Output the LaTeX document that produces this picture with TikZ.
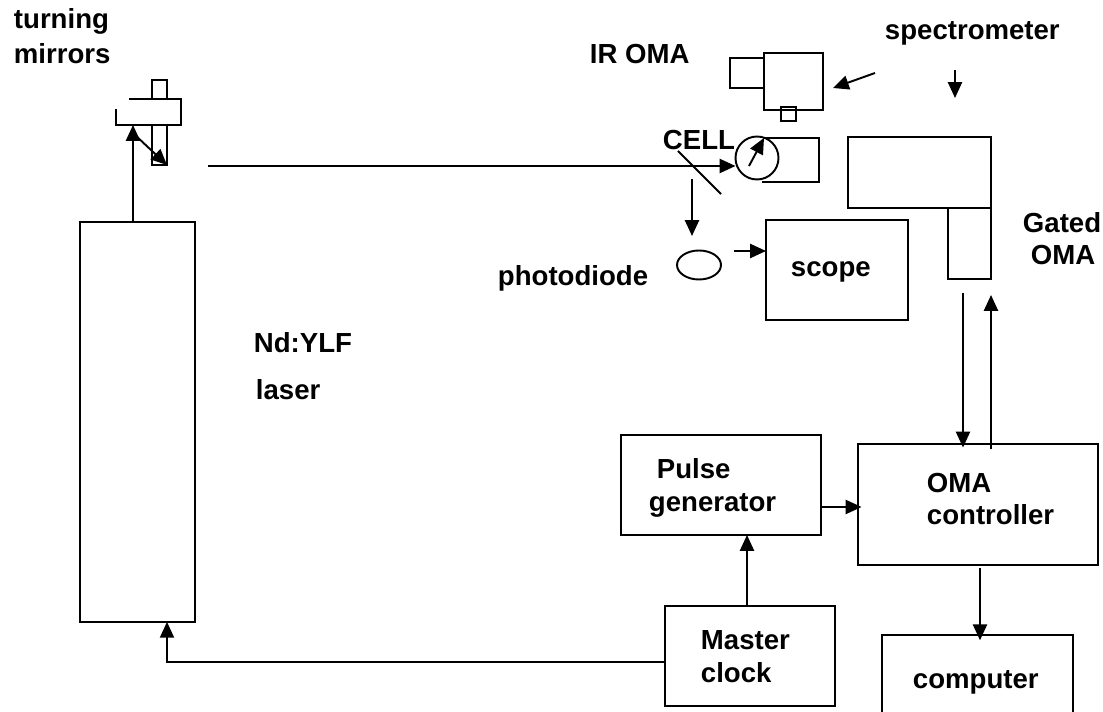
\documentclass[tikz,border=0pt]{standalone}
\usepackage{fontspec}
\setmainfont{Liberation Sans}
\usetikzlibrary{arrows.meta, positioning, calc, shapes.geometric}

\begin{document}
\begin{tikzpicture}[
    x=0.02cm, y=-0.02cm,
    line width=1.1pt,
    >={Triangle[length=9pt, width=8pt]},
    apparatus/.style={draw, rectangle, inner sep=0pt, outer sep=0pt, anchor=north west},
    caption/.style={font=\fontsize{15.7}{19}\selectfont\bfseries, align=left, anchor=north west, inner sep=0pt}
  ]
    \useasboundingbox (0,0) rectangle (1103,712);

    % boxes
    \node[apparatus, minimum width=2.3cm, minimum height=8cm] (laser) at (80,222) {};
    \node[apparatus, minimum width=1.18cm, minimum height=1.14cm] (iroma) at (764,53) {};
    \node[apparatus, minimum width=0.68cm, minimum height=0.6cm] (irlens) at (730,58) {};
    \node[apparatus, minimum width=0.3cm, minimum height=0.28cm] (irport) at (781,107) {};
    \node[apparatus, minimum width=2.84cm, minimum height=2cm] (scope) at (766,220) {};
    \node[apparatus, minimum width=2.86cm, minimum height=1.42cm] (spectrometer) at (848,137) {};
    \node[apparatus, minimum width=0.86cm, minimum height=1.42cm] (gated) at (948,208) {};
    \node[apparatus, minimum width=4.8cm, minimum height=2.42cm] (controller) at (858,444) {};
    \node[apparatus, minimum width=4cm, minimum height=2cm] (pulse) at (621,435) {};
    \node[apparatus, minimum width=3.4cm, minimum height=2cm] (clock) at (665,606) {};
    \node[apparatus, minimum width=3.82cm, minimum height=1.7cm] (computer) at (882,635) {};
    \node[draw, circle, inner sep=0pt, outer sep=0pt, minimum size=0.86cm] (cell) at (757,158) {};
    \node[draw, ellipse, inner sep=0pt, outer sep=0pt, minimum width=0.88cm, minimum height=0.58cm] (diode) at (699,265) {};

    % turning mirrors
    \draw (152,99) -- (152,80) -- (167,80) -- (167,99);
    \draw (152,125) -- (152,165) -- (167,165) -- (167,125);
    \draw (129,99) -- (181,99) -- (181,125) -- (116,125) -- (116,109);
    \coordinate (mirrorin) at (133,125);
    \coordinate (mirrorout) at (135,135);
    \coordinate (mirrorlow) at (167,165);

    % cell holder and beam splitter
    \draw (763,138) -- (819,138) -- (819,182) -- (762,182);
    \draw (678,151) -- (721,194);

    % free ends
    \coordinate (beam) at (208,166);
    \coordinate (cellarrow) at (749,166);
    \coordinate (cellarrowend) at (764,138);
    \coordinate (split) at (692,179);
    \coordinate (diodetop) at (692,236);
    \coordinate (diodeout) at (734,251);
    \coordinate (iroutstart) at (875,73);
    \coordinate (iroutend) at (833,88);
    \coordinate (specstart) at (955,70);
    \coordinate (specend) at (955,98);
    \coordinate (gateddown) at (963,293);
    \coordinate (gatedup) at (991,295);

    \draw[->] (laser.north west -| mirrorin) -- (mirrorin);
    \draw[->] (mirrorout) -- (mirrorlow);
    \draw[->] (beam) -- (cell.west |- beam);
    \draw[->] (cellarrow) -- (cellarrowend);
    \draw[->] (split) -- (diodetop);
    \draw[->] (diodeout) -- (scope.west |- diodeout);
    \draw[->] (iroutstart) -- (iroutend);
    \draw[->] (specstart) -- (specend);
    \draw[->, shorten >=-2pt] (gateddown) -- (gateddown |- controller.north);
    \draw[->, shorten <=-3pt] (gatedup |- controller.north) -- (gatedup);
    \draw[->, shorten >=-2pt] (pulse.east |- 0,507) -- (controller.west |- 0,507);
    \draw[->] (clock.north -| 747,0) -- (pulse.south -| 747,0);
    \draw[->] (clock.west |- 0,662) -- (167,662) -- (laser.south -| 167,0);
    \draw[->, shorten <=2pt, shorten >=-3pt] (controller.south -| 980,0) -- (computer.north -| 980,0);

    % labels
    \node[caption] (turning) at (13,8) {turning\\[0.8pt]mirrors};
    \node[caption] (iromatext) at (589,43) {IR OMA};
    \node[caption] (spectext) at (884,21) {spectrometer};
    \node[caption] (celltext) at (662,129) {CELL};
    \node[caption] (gatedtext) at (1022,212) {Gated\\[-0.8pt]\hspace*{0.16cm}OMA};
    \node[caption] (diodetext) at (497,265) {photodiode};
    \node[caption] (scopetext) at (790,261) {scope};
    \node[caption] (ndyag) at (253,332) {Nd:YLF};
    \node[caption] (lasertext) at (255,379) {laser};
    \node[caption] (pulsetext) at (656,458) {Pulse};
    \node[caption] (gentext) at (648,493) {generator};
    \node[caption] (omatext) at (926,472) {OMA};
    \node[caption] (conttext) at (926,504) {controller};
    \node[caption] (mastertext) at (700,630) {Master};
    \node[caption] (clocktext) at (700,662) {clock};
    \node[caption] (comptext) at (912,670) {computer};
  \end{tikzpicture}
\end{document}
